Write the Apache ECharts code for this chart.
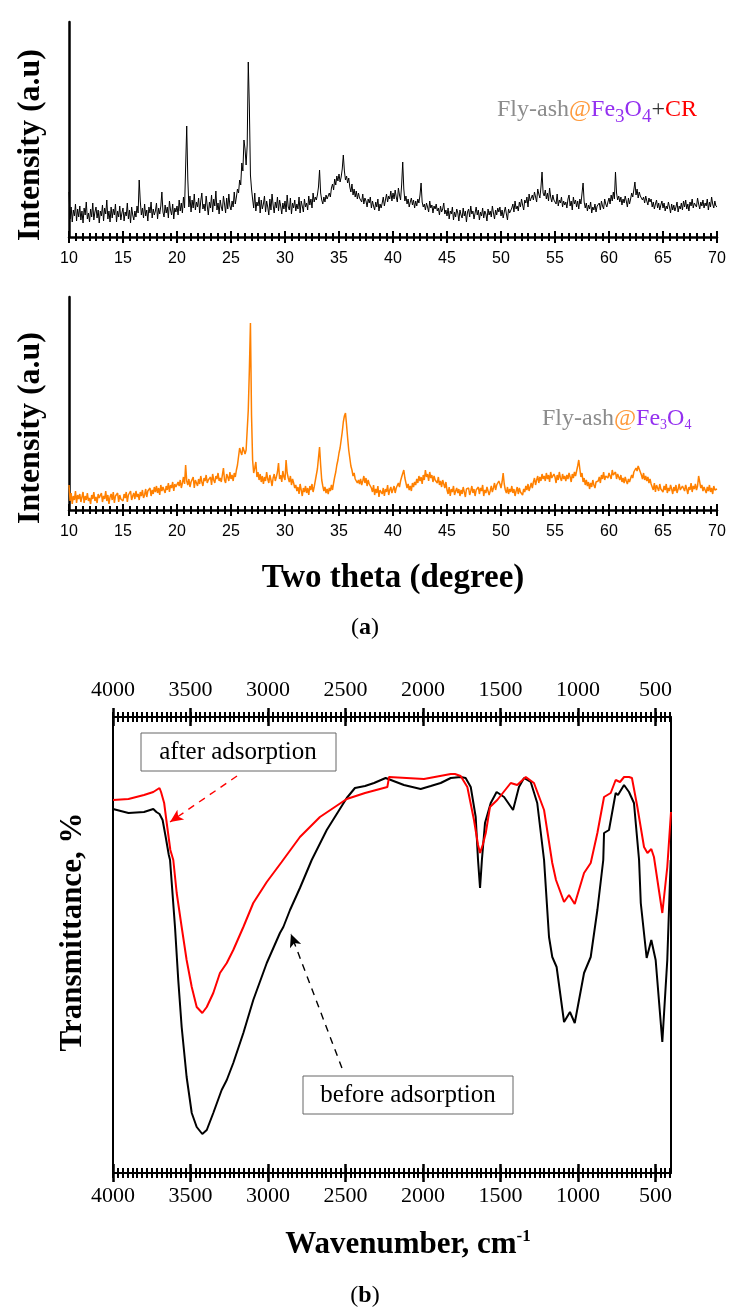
<!DOCTYPE html>
<html><head><meta charset="utf-8">
<script src="https://cdn.jsdelivr.net/npm/echarts@6/dist/echarts.min.js"></script>
<style>html,body{margin:0;padding:0;background:#fff}#c{width:729px;height:1313px}</style>
</head><body><div id="c"></div>
<script>
// ---------- DATA ----------
const xrdStart = 10, xrdStep = 0.1;
const xrdTicks = [10, 15, 20, 25, 30, 35, 40, 45, 50, 55, 60, 65, 70];
// Fly-ash@Fe3O4+CR (top panel, a.u.), one row per degree
const xrdCR = [
45,18,30,15,27,21,33,16,28,20, 31,17,26,14,29,22,35,18,24,15, 28,20,34,17,25,30,19,27,14,26,
21,32,16,29,23,37,18,26,15,30, 19,28,22,33,15,26,20,31,17,24, 29,16,25,21,34,18,27,14,30,22,
17,26,20,31,24,57,36,22,29,19, 33,21,27,16,30,24,35,19,28,22, 26,34,18,29,23,31,45,25,20,32,
24,30,19,36,27,22,33,18,29,25, 31,22,37,26,34,24,40,29,70,111, 58,30,41,25,37,29,43,27,35,30,
39,24,36,44,28,33,26,41,31,22, 35,29,42,25,38,31,46,27,34,23, 37,30,26,41,33,24,39,28,43,31,
27,36,30,45,33,40,48,44,57,52, 74,66,97,88,72,92,175,130,62,48, 38,29,44,26,35,31,40,24,37,28,
33,41,25,36,30,22,38,27,43,32, 24,35,29,40,26,37,31,23,34,28, 36,25,42,30,27,39,23,34,29,37,
26,33,28,40,24,36,31,25,38,30, 34,27,41,32,38,29,44,35,40,37, 42,50,67,44,37,33,40,35,42,38,
36,44,40,49,53,47,58,52,61,56, 63,55,60,68,82,66,57,61,54,59, 50,45,53,42,48,40,46,38,44,39,
41,35,43,33,39,36,30,38,34,40, 29,36,31,27,35,30,38,26,33,29, 34,40,31,37,43,35,41,38,46,36,
44,38,47,40,35,49,42,37,52,75, 48,36,41,33,38,30,35,39,32,37, 29,36,31,38,34,42,54,35,30,33,
27,34,30,25,36,29,32,24,31,28, 33,26,29,22,31,25,28,34,23,27, 21,29,18,26,23,30,17,25,20,28,
24,16,27,22,19,29,21,26,15,25, 28,20,31,23,26,18,24,30,22,27, 17,25,21,29,19,26,23,16,28,22,
26,20,31,24,18,27,22,29,25,30, 21,27,19,25,30,23,17,28,24,26, 29,33,25,36,28,31,26,35,30,38,
32,27,37,34,40,30,43,36,39,42, 37,45,40,35,48,43,39,50,65,44, 41,47,38,44,36,49,40,35,42,37,
39,33,43,31,37,34,40,30,36,32, 35,29,38,42,31,36,27,40,33,37, 30,36,28,38,33,31,54,35,29,34,
26,32,28,35,24,30,27,33,25,31, 29,34,27,36,31,28,38,33,30,35, 39,33,42,36,45,38,65,44,37,41,
35,40,32,38,34,41,36,30,39,33, 38,44,40,47,55,42,48,39,45,41, 43,37,40,34,41,36,32,39,35,38,
30,35,28,33,37,29,34,27,32,36, 29,34,26,31,28,35,30,24,33,27, 32,26,30,35,25,31,28,34,27,36,
30,37,28,33,26,35,31,38,29,34, 36,30,39,33,28,35,31,37,29,34, 31,38,27,35,30,40,33,29,36,31,
30];
// Fly-ash@Fe3O4 (bottom panel, a.u.), one row per degree
const xrdFA = [
25,9,17,6,14,10,19,7,15,11, 16,8,13,18,7,14,10,17,9,12, 6,15,11,18,9,13,7,16,12,10,
17,8,14,11,19,9,15,6,13,16, 10,18,7,14,12,17,8,15,11,13, 9,16,12,18,8,15,13,19,10,14,
17,11,19,13,16,10,18,14,20,12, 15,21,13,19,17,22,14,20,16,23, 18,24,17,22,15,25,19,23,21,17,
24,20,27,18,25,22,28,19,26,23, 21,28,24,30,22,27,33,26,45,29, 25,31,23,28,26,33,22,30,27,24,
31,26,34,28,24,32,29,35,27,30, 28,33,25,36,30,27,34,31,37,29, 32,28,35,42,30,27,36,33,29,38,
31,35,29,37,33,40,45,47,62,58, 55,63,65,56,60,58,100,140,187,95, 50,37,42,48,33,38,30,36,28,34,
26,33,29,38,31,27,35,30,24,32, 36,29,33,38,47,31,35,28,39,33, 30,50,37,32,28,34,25,31,27,22,
25,19,23,16,26,20,14,22,18,24, 17,22,15,24,20,26,18,23,29,35, 41,52,63,45,30,24,19,23,17,21,
16,22,19,25,20,27,33,38,45,50, 57,62,70,78,88,94,97,85,72,60, 52,44,40,34,37,31,33,27,30,26,
31,25,29,34,27,32,24,30,26,28, 22,18,25,15,21,17,24,13,20,18, 16,22,14,21,18,25,15,20,23,17,
19,24,17,22,20,27,23,29,33,31, 40,32,27,22,26,20,24,19,27,23, 28,25,31,27,34,29,33,26,35,30,
40,33,36,29,38,32,35,28,34,30, 31,27,33,25,29,23,30,26,22,28, 20,16,23,14,21,18,24,15,19,22,
17,21,14,20,16,23,18,13,21,19, 22,15,19,24,17,21,14,20,18,23, 16,22,19,25,14,20,17,23,21,15,
19,24,18,22,27,20,25,23,29,26, 22,28,37,26,20,17,23,16,21,18, 24,17,21,14,19,23,16,22,18,20,
15,21,18,24,20,26,19,23,27,22, 28,32,25,30,34,27,33,29,36,31, 34,29,37,31,35,28,38,32,30,36,
33,27,35,30,38,32,29,36,31,34, 29,35,31,37,33,28,36,32,38,34, 39,44,50,41,33,37,28,32,25,30,
24,28,21,27,23,30,25,22,28,26, 29,33,27,35,31,38,30,34,36,32, 37,34,31,40,35,33,38,31,36,34,
30,35,28,32,27,33,29,26,31,28, 30,35,32,38,36,42,39,44,46,38, 35,31,37,30,34,29,33,27,31,26,
24,20,27,18,25,22,19,26,21,23, 18,24,20,26,17,22,19,25,21,16, 23,19,25,17,21,26,20,18,24,22,
19,25,21,16,23,20,27,18,24,21, 26,20,24,34,28,22,25,19,23,20, 17,23,19,25,18,22,16,24,20,18,
21];

const ftirTicks = [4000, 3500, 3000, 2500, 2000, 1500, 1000, 500];
const ftirMinorStep = 31.25;
// [wavenumber, transmittance (a.u.)]
const ftirBefore = [[4000,364],[3900,360],[3800,361],[3760,363],[3740,364],[3720,361],[3700,359],[3680,353],[3660,336],[3640,318],[3632,313],[3600,246],[3579,193],[3557,146],[3525,96],[3492,60],[3460,46],[3424,39],[3395,43],[3353,60],[3299,83],[3266,93],[3224,110],[3159,140],[3095,173],[3008,210],[2923,240],[2901,246],[2858,263],[2794,285],[2718,313],[2621,343],[2492,375],[2439,385],[2374,387],[2316,390],[2241,395],[2123,388],[2015,384],[1950,387],[1886,390],[1821,395],[1757,396],[1725,395],[1692,386],[1660,356],[1645,313],[1632,285],[1620,313],[1600,350],[1563,370],[1525,381],[1477,376],[1419,363],[1381,386],[1348,395],[1305,391],[1263,370],[1219,313],[1187,236],[1166,216],[1138,206],[1090,151],[1052,161],[1021,150],[961,200],[918,216],[875,263],[837,313],[832,340],[800,343],[757,380],[742,378],[703,388],[671,381],[639,370],[606,313],[595,270],[557,215],[527,233],[499,213],[456,131],[424,213],[402,313]];
const ftirAfter = [[4000,373],[3900,374],[3800,378],[3740,381],[3720,383],[3700,385],[3690,381],[3670,370],[3650,346],[3630,323],[3611,313],[3589,280],[3557,246],[3525,213],[3492,186],[3460,166],[3424,160],[3395,166],[3353,180],[3310,200],[3266,210],[3224,223],[3159,246],[3095,270],[3008,291],[2912,311],[2794,336],[2665,356],[2492,374],[2374,380],[2230,386],[2219,396],[1994,394],[1890,397],[1821,399],[1794,399],[1757,397],[1714,386],[1671,353],[1645,328],[1632,320],[1615,328],[1595,340],[1568,366],[1521,373],[1434,390],[1392,388],[1337,396],[1284,390],[1219,363],[1166,310],[1142,293],[1090,271],[1058,278],[1021,269],[961,300],[918,310],[875,340],[832,376],[789,380],[757,393],[729,391],[703,396],[671,396],[652,395],[617,366],[574,326],[552,320],[527,324],[510,316],[456,260],[424,306],[400,361]];

// ---------- CHART ----------
const BLACK = '#000';
const SERIF = 'Liberation Serif';
const SANS = 'Liberation Sans';
const toPairs = vals => vals.map((v, i) => [+(xrdStart + i * xrdStep).toFixed(2), v]);
const ftirMinor = [];
for (let v = 4000; v >= 400; v -= ftirMinorStep) ftirMinor.push(v);

function xrdAxes(grid) {
  const base = {type: 'value', gridIndex: grid, min: 10, max: 70, interval: 5, position: 'bottom', splitLine: {show: false}};
  return [
    Object.assign({}, base, {
      axisLine: {show: true, onZero: false, lineStyle: {color: BLACK, width: 2.5}},
      axisTick: {show: true, inside: true, length: 6, lineStyle: {color: BLACK, width: 2}},
      minorTick: {show: true, splitNumber: 8, length: 4, lineStyle: {color: BLACK, width: 2}},
      axisLabel: {show: true, margin: 14, fontFamily: SANS, fontSize: 16, color: BLACK}
    }),
    Object.assign({}, base, {
      axisLine: {show: false, onZero: false},
      axisTick: {show: true, inside: false, length: 6, lineStyle: {color: BLACK, width: 2}},
      minorTick: {show: true, splitNumber: 8, length: 4, lineStyle: {color: BLACK, width: 2}},
      axisLabel: {show: false}
    })
  ];
}
function ftirAxis(pos, major, inside, label) {
  return {
    type: 'value', gridIndex: 2, min: 400, max: 4000, inverse: true, position: pos, splitLine: {show: false},
    axisLine: {show: label, onZero: false, lineStyle: {color: BLACK, width: 2}},
    axisTick: {show: true, inside: inside, length: major ? 9 : 5, customValues: major ? ftirTicks : ftirMinor,
      lineStyle: {color: BLACK, width: major ? 2.5 : 2}},
    axisLabel: {show: label, customValues: ftirTicks, formatter: v => String(v),
      margin: pos === 'top' ? 16 : 12, fontFamily: SERIF, fontSize: 22, color: BLACK}
  };
}
function yAx(grid, max, pos, w) {
  return {type: 'value', gridIndex: grid, min: 0, max: max, position: pos,
    axisLine: {show: true, onZero: false, lineStyle: {color: BLACK, width: w}},
    axisTick: {show: false}, axisLabel: {show: false}, splitLine: {show: false}};
}
function txt(x, y, text, font, extra) {
  return Object.assign({type: 'text', x: x, y: y, z: 50,
    style: {text: text, font: font, fill: BLACK, align: 'center', verticalAlign: 'middle', textAlign: 'center', textVerticalAlign: 'middle'}}, extra || {});
}
function tok(fill, size, extra) {
  return Object.assign({fill: fill, fontSize: size, fontFamily: SERIF, lineHeight: 26}, extra || {});
}

const option = {
  animation: false,
  backgroundColor: '#fff',
  grid: [
    {left: 69, top: 22, width: 648, height: 215},
    {left: 69, top: 297, width: 648, height: 213},
    {left: 113, top: 717, width: 558, height: 456}
  ],
  xAxis: [].concat(
    xrdAxes(0), xrdAxes(1),
    [ftirAxis('bottom', true, true, true), ftirAxis('bottom', true, false, false),
     ftirAxis('bottom', false, true, false), ftirAxis('bottom', false, false, false),
     ftirAxis('top', true, true, true), ftirAxis('top', true, false, false),
     ftirAxis('top', false, true, false), ftirAxis('top', false, false, false)]
  ),
  yAxis: [yAx(0, 215, 'left', 2.5), yAx(1, 213, 'left', 2.5), yAx(2, 456, 'left', 2), yAx(2, 456, 'right', 2)],
  series: [
    {type: 'line', name: 'Fly-ash@Fe3O4+CR', xAxisIndex: 0, yAxisIndex: 0, data: toPairs(xrdCR),
      showSymbol: false, symbol: 'none', silent: true, sampling: null, lineStyle: {color: BLACK, width: 1}},
    {type: 'line', name: 'Fly-ash@Fe3O4', xAxisIndex: 2, yAxisIndex: 1, data: toPairs(xrdFA),
      showSymbol: false, symbol: 'none', silent: true, sampling: null, lineStyle: {color: '#ff8000', width: 1.5}},
    {type: 'line', name: 'before adsorption', xAxisIndex: 4, yAxisIndex: 2, data: ftirBefore,
      showSymbol: false, symbol: 'none', silent: true, lineStyle: {color: BLACK, width: 2},
      markLine: {silent: true, symbol: ['none', 'arrow'], symbolSize: [9, 13], label: {show: false},
        lineStyle: {color: BLACK, type: [7, 6], width: 1.4}, emphasis: {disabled: true},
        data: [[{coord: [2523, 105]}, {coord: [2852, 239]}]]}},
    {type: 'line', name: 'after adsorption', xAxisIndex: 4, yAxisIndex: 2, data: ftirAfter,
      showSymbol: false, symbol: 'none', silent: true, lineStyle: {color: '#ff0000', width: 2},
      markLine: {silent: true, symbol: ['none', 'arrow'], symbolSize: [9, 13], label: {show: false},
        lineStyle: {color: '#ff0000', type: [7, 6], width: 1.4}, emphasis: {disabled: true},
        data: [[{coord: [3200, 397]}, {coord: [3632, 351]}]]}}
  ],
  graphic: [
    txt(31, 145, 'Intensity (a.u)', 'bold 32px "Liberation Serif"', {rotation: Math.PI / 2}),
    txt(31, 428, 'Intensity (a.u)', 'bold 32px "Liberation Serif"', {rotation: Math.PI / 2}),
    txt(393, 578, 'Two theta (degree)', 'bold 33px "Liberation Serif"'),
    {type: 'text', x: 365, y: 628, z: 50, style: {text: '{n|(}{b|a}{n|)}', align: 'center', verticalAlign: 'middle',
      rich: {n: tok(BLACK, 24), b: tok(BLACK, 24, {fontWeight: 'bold'})}}},
    {type: 'text', x: 497, y: 110, z: 50, style: {
      text: '{g|Fly-ash}{o|@}{p|Fe}{s|3}{p|O}{s|4}{k|+}{r|CR}', align: 'left', verticalAlign: 'middle',
      rich: {g: tok('#8c8c8c', 24, {lineHeight: 34}), o: tok('#ff9a3c', 24, {lineHeight: 34}), p: tok('#9430f0', 24, {lineHeight: 34}),
        s: tok('#9430f0', 19, {lineHeight: 19, verticalAlign: 'bottom'}), k: tok('#333', 24, {lineHeight: 34}), r: tok('#ff0000', 24, {lineHeight: 34})}}},
    {type: 'text', x: 542, y: 419, z: 50, style: {
      text: '{g|Fly-ash}{o|@}{p|Fe}{s|3}{p|O}{s|4}', align: 'left', verticalAlign: 'middle',
      rich: {g: tok('#8c8c8c', 24), o: tok('#ff9a3c', 24), p: tok('#9430f0', 24),
        s: tok('#9430f0', 14, {lineHeight: 4, verticalAlign: 'bottom'})}}},
    txt(73, 932, 'Transmittance, %', 'bold 31px "Liberation Serif"', {rotation: Math.PI / 2}),
    {type: 'text', x: 408, y: 1245, z: 50, style: {text: '{m|Wavenumber, cm}{s|-1}', align: 'center', verticalAlign: 'middle',
      rich: {m: tok(BLACK, 31, {fontWeight: 'bold', lineHeight: 34}), s: tok(BLACK, 17, {fontWeight: 'bold', lineHeight: 12, verticalAlign: 'top'})}}},
    {type: 'text', x: 365, y: 1296, z: 50, style: {text: '{n|(}{b|b}{n|)}', align: 'center', verticalAlign: 'middle',
      rich: {n: tok(BLACK, 24), b: tok(BLACK, 24, {fontWeight: 'bold'})}}},
    {type: 'rect', z: 40, shape: {x: 141, y: 733, width: 195, height: 38}, style: {fill: '#fff', stroke: '#666', lineWidth: 1}},
    txt(238, 752, 'after adsorption', '25px "Liberation Serif"'),
    {type: 'rect', z: 40, shape: {x: 303, y: 1076, width: 210, height: 38}, style: {fill: '#fff', stroke: '#666', lineWidth: 1}},
    txt(408, 1095, 'before adsorption', '25px "Liberation Serif"')
  ]
};
const chart = echarts.init(document.getElementById('c'), null, {renderer: 'canvas'});
chart.setOption(option);
</script>
</body></html>
